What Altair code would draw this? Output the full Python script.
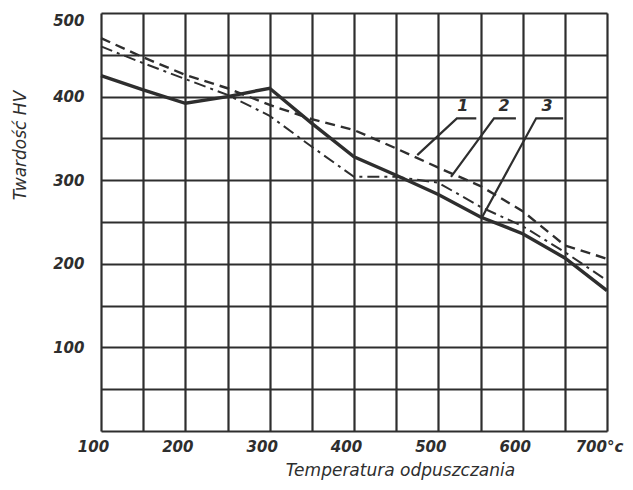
import altair as alt
import pandas as pd

# ---- data ----
temps = [100, 150, 200, 250, 300, 350, 400, 450, 500, 550, 600, 650, 700]
curve1_dashed = [470, 447, 426, 410, 390, 373, 360, 338, 315, 293, 263, 222, 206]
curve2_dashdot = [460, 440, 421, 402, 377, 340, 304, 304, 297, 268, 245, 214, 180]
curve3_solid = [425, 408, 392, 400, 410, 368, 328, 306, 283, 256, 236, 207, 168]

label_names = ["1", "2", "3"]
# leader polylines: point on curve -> top of leader -> end of bar
leader_x = [[475, 522, 545], [515, 566, 592], [552, 616, 648]]
leader_y = [[330, 374, 374], [304, 374, 374], [256, 374, 374]]
label_x = [529, 578, 629]
label_y = [389, 389, 389]

x_title = "Temperatura  odpuszczania"
y_title = "Twardość  HV"

# ---- tables ----
def series(name, vals):
    return pd.DataFrame({"t": temps, "hv": vals, "s": name})

df1 = series("1", curve1_dashed)
df2 = series("2", curve2_dashdot)
df3 = series("3", curve3_solid)

rows = []
for i, n in enumerate(label_names):
    for k in range(3):
        rows.append({"id": n, "k": k, "t": leader_x[i][k], "hv": leader_y[i][k]})
leaders = pd.DataFrame(rows)
labels = pd.DataFrame({"t": label_x, "hv": label_y, "txt": label_names})

INK = "#2e2e2e"
FONT = "DejaVu Sans"

xscale = alt.Scale(domain=[100, 700], nice=False, zero=False)
yscale = alt.Scale(domain=[0, 500], nice=False)

xaxis = alt.Axis(
    values=list(range(100, 701, 50)),
    labelExpr="datum.value % 100 == 0 ? (datum.value == 700 ? '700°c' : datum.label) : ''",
    grid=True, gridColor=INK, gridWidth=2.2, gridOpacity=1,
    domain=False, ticks=False,
    labelFont=FONT, labelFontSize=15, labelFontStyle="italic", labelFontWeight="bold",
    labelColor=INK, labelPadding=8, labelOffset=-8, labelFlush=False,
    title=x_title, titleFont=FONT, titleFontSize=17, titleFontStyle="italic",
    titleFontWeight="normal", titleColor=INK,
    titleX=299, titleY=39, titleAlign="center", titleBaseline="middle",
)
yaxis = alt.Axis(
    values=list(range(0, 501, 50)),
    labelExpr="datum.value % 100 == 0 && datum.value > 0 ? datum.label : ''",
    grid=True, gridColor=INK, gridWidth=2.2, gridOpacity=1,
    domain=False, ticks=False,
    labelFont=FONT, labelFontSize=15, labelFontStyle="italic", labelFontWeight="bold",
    labelColor=INK, labelPadding=17, labelFlush=True,
    title=y_title, titleFont=FONT, titleFontSize=17, titleFontStyle="italic",
    titleFontWeight="normal", titleColor=INK,
    titleAngle=270, titleX=-81, titleY=132, titleAlign="center", titleBaseline="middle",
)

X = alt.X("t:Q", scale=xscale, axis=xaxis)
Y = alt.Y("hv:Q", scale=yscale, axis=yaxis)
Xn = alt.X("t:Q", scale=xscale)
Yn = alt.Y("hv:Q", scale=yscale)

base_grid = alt.Chart(df3).mark_point(opacity=0).encode(x=X, y=Y)

l1 = alt.Chart(df1).mark_line(color=INK, strokeWidth=2.4, strokeDash=[10, 6]).encode(x=Xn, y=Yn)
l2 = alt.Chart(df2).mark_line(color=INK, strokeWidth=2.0, strokeDash=[12, 5, 3, 5]).encode(x=Xn, y=Yn)
l3 = alt.Chart(df3).mark_line(color=INK, strokeWidth=3.4).encode(x=Xn, y=Yn)

lead = alt.Chart(leaders).mark_line(color=INK, strokeWidth=2.2).encode(
    x=Xn, y=Yn, detail="id:N", order="k:Q")
txt = alt.Chart(labels).mark_text(
    font=FONT, fontSize=16, fontStyle="italic", fontWeight="bold", color=INK,
    baseline="middle", align="center").encode(x=Xn, y=Yn, text="txt:N")

chart = alt.layer(base_grid, l2, l1, l3, lead, txt).properties(
    width=506, height=418,
    autosize=alt.AutoSizeParams(type="none"),
    padding={"left": 93, "top": 5, "right": 18, "bottom": 51},
).configure_view(stroke=INK, strokeWidth=3.5).configure(background="white")

chart.save("out.html", embed_options={"renderer": "svg", "actions": False})
